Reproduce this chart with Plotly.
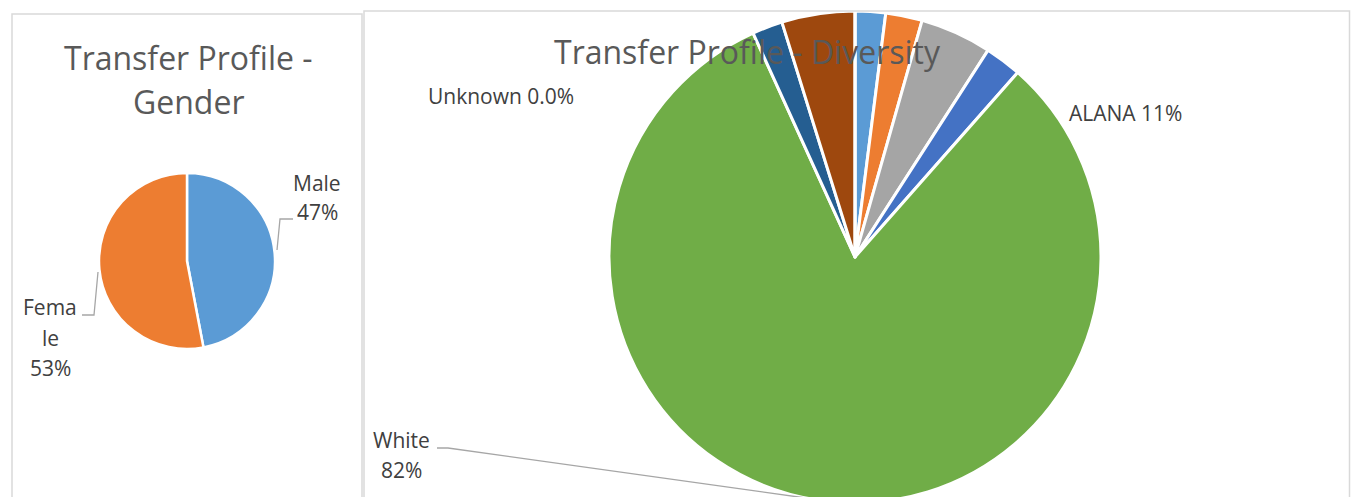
import plotly.graph_objects as go

W, H = 1351, 505  # drawn taller than the window; page overflow is hidden

# ---- data ----
gender_categories = ["Male", "Female"]
gender_values = [47, 53]
gender_colors = ["#5B9BD5", "#ED7D31"]

diversity_categories = ["Asian", "Black", "Hispanic", "Multiracial", "White", "International", "Other", "Unknown"]
diversity_values = [2.0, 2.4, 4.7, 2.4, 81.7, 2.0, 4.8, 0.0]
diversity_colors = ["#5B9BD5", "#ED7D31", "#A5A5A5", "#4472C4", "#70AD47", "#255E91", "#9E480E", "#636363"]

FONT = "Open Sans"
TITLE_C = "#595959"
LABEL_C = "#404040"


def px(x):
    return x / W


def py(y):
    return 1 - y / H


fig = go.Figure()

fig.add_trace(go.Pie(
    labels=gender_categories, values=gender_values, sort=False,
    direction="clockwise", rotation=0, textinfo="none", hoverinfo="label+percent",
    marker=dict(colors=gender_colors, line=dict(color="white", width=2.5)),
    domain=dict(x=[px(99), px(275)], y=[py(349), py(173)]),
    showlegend=False,
))

fig.add_trace(go.Pie(
    labels=diversity_categories, values=diversity_values, sort=False,
    direction="clockwise", rotation=0, textinfo="none", hoverinfo="label+percent",
    marker=dict(colors=diversity_colors, line=dict(color="white", width=3)),
    domain=dict(x=[px(609), px(1101)], y=[py(503), py(11)]),
    showlegend=False,
))

shapes = []
border = dict(color="#D9D9D9", width=1.5)
shapes.append(dict(type="rect", xref="paper", yref="paper", x0=px(12), x1=px(362), y0=py(520), y1=py(14), line=border))
shapes.append(dict(type="rect", xref="paper", yref="paper", x0=px(364), x1=px(1349.5), y0=py(520), y1=py(11), line=border))

lead = dict(color="#A6A6A6", width=1.3)
def seg(pts):
    path = "M " + " L ".join(f"{px(x)},{py(y)}" for x, y in pts)
    return dict(type="path", xref="paper", yref="paper", path=path, line=lead)

shapes.append(seg([(277, 250), (280, 219), (293, 219)]))
shapes.append(seg([(98, 272), (94, 315), (82, 315)]))
shapes.append(seg([(437, 448), (448, 448), (820, 500)]))

annotations = []
def ann(text, x, y, size, color):
    annotations.append(dict(text=text, x=px(x), y=py(y), xref="paper", yref="paper",
                            showarrow=False, xanchor="center", yanchor="middle",
                            font=dict(family=FONT, size=size, color=color)))

# titles
ann("Transfer Profile -", 188, 58, 32, TITLE_C)
ann("Gender", 188, 102, 32, TITLE_C)
ann("Transfer Profile - Diversity", 747, 52, 32, TITLE_C)

# gender labels
ann("Male", 317, 183, 21, LABEL_C)
ann("47%", 317, 212, 21, LABEL_C)
ann("Fema", 50, 307, 21, LABEL_C)
ann("le", 50, 338, 21, LABEL_C)
ann("53%", 50, 368, 21, LABEL_C)

# diversity labels
ann("Unknown 0.0%", 501, 96, 21, LABEL_C)
ann("ALANA 11%", 1125, 113, 21, LABEL_C)
ann("White", 401, 440, 21, LABEL_C)
ann("82%", 401, 470, 21, LABEL_C)

fig.update_layout(
    width=W, height=H,
    margin=dict(l=0, r=0, t=0, b=0),
    paper_bgcolor="white", plot_bgcolor="white",
    shapes=shapes, annotations=annotations,
)

fig.write_html(
    "out.html",
    config={"displayModeBar": False},
    post_script="document.body.style.margin='0px';document.body.style.overflow='hidden';",
)
